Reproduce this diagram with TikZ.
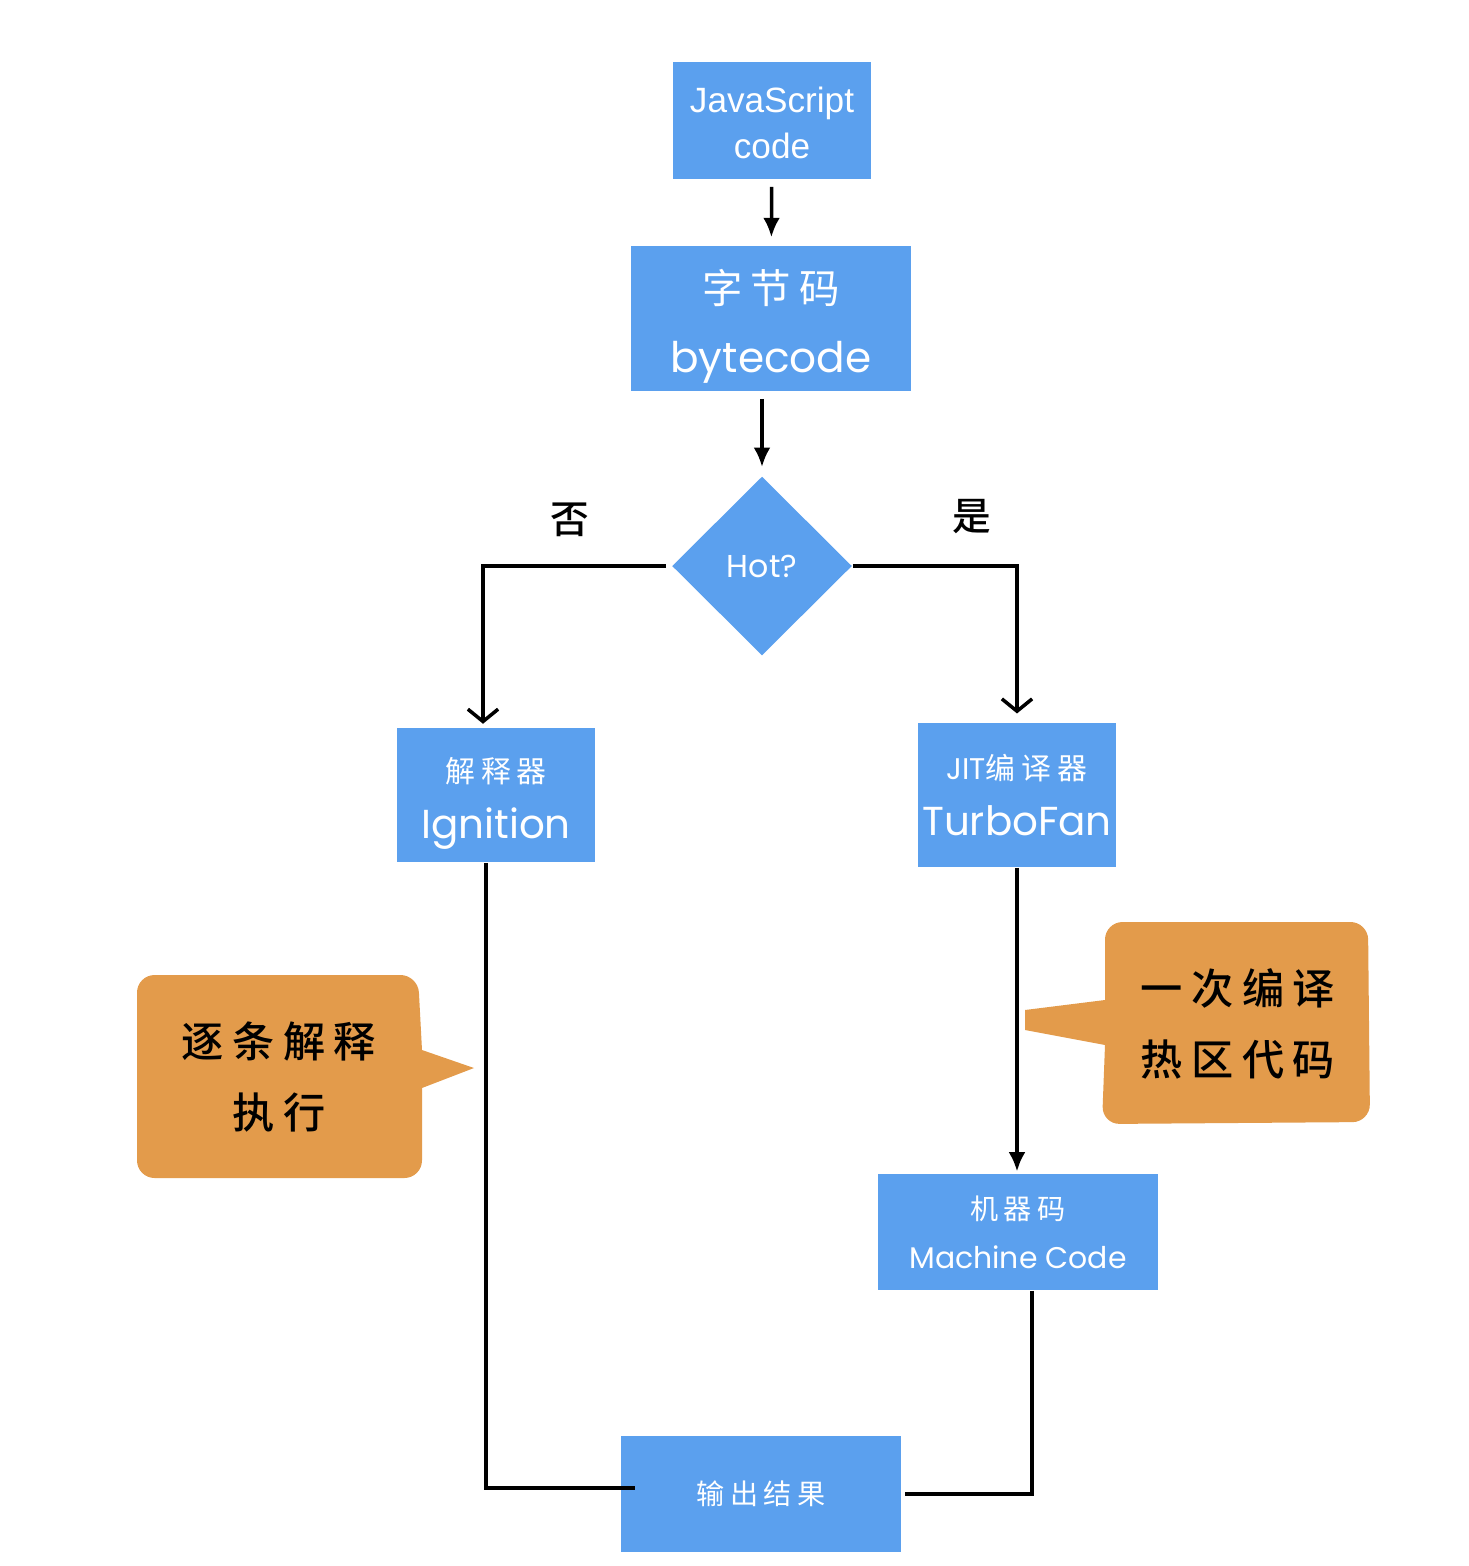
\documentclass[tikz,border=0pt]{standalone}
\usepackage{fontspec}
\setmainfont{Poppins}
\newfontfamily\cjk[LetterSpace=20]{Noto Sans CJK SC}
\newfontfamily\cjknote[LetterSpace=20,UprightFont=* Medium]{Noto Sans CJK SC}
\newfontfamily\jsfont{Liberation Sans}
\usetikzlibrary{arrows.meta,positioning,shapes.geometric}
\definecolor{Block}{HTML}{5BA0EE}
\definecolor{Balloon}{HTML}{E39B4B}

\begin{document}
\begin{tikzpicture}[x=0.01cm,y=-0.01cm,>=Latex]
        \tikzset{
          blockbox/.style={
            fill=Block,
            text=white,
            inner sep=0pt,
            align=center
          },
          hotbox/.style={
            diamond,
            fill=Block,
            text=white,
            inner sep=0pt,
            minimum width=1.8cm,
            minimum height=1.79cm
          },
          flowline/.style={line width=1pt},
          fillhead/.style={-{Latex[length=5.5pt,width=4.8pt]}},
          barbhead/.style={-{Straight Barb[length=3.5pt,width=8.6pt]}},
          balloontext/.style={align=center, font=\fontsize{12}{20}\selectfont\cjknote}
        }
        \useasboundingbox (0,0) rectangle (1468,1566);
        % boxes
        \node[blockbox,minimum width=1.98cm,minimum height=1.17cm,font=\jsfont\fontsize{10}{13}\selectfont] (jscode) at (772,120.5) {\rule{0pt}{0.31cm}JavaScript\\code};
        \node[blockbox,minimum width=2.8cm,minimum height=1.45cm,font=\fontsize{12}{19.5}\selectfont] (bytecode) at (771,318.5) {{\cjk\fontsize{11.5}{19.5}\selectfont\rule{0pt}{0.5cm}字节码}\\bytecode};
        \node[hotbox,font=\fontsize{9}{11}\selectfont] (hot) at (762,566) {Hot?};
        \node[blockbox,minimum width=1.98cm,minimum height=1.34cm,font=\fontsize{11.5}{16}\selectfont] (ignition) at (496,795) {{\cjk\fontsize{8.5}{16}\selectfont\rule{0pt}{0.42cm}解释器}\\Ignition};
        \node[blockbox,minimum width=1.98cm,minimum height=1.44cm,font=\fontsize{11.5}{16}\selectfont] (jit) at (1017,795) {{\fontsize{8.5}{16}\selectfont JIT\cjk 编译器}\\TurboFan};
        \node[blockbox,minimum width=2.8cm,minimum height=1.16cm,font=\fontsize{8.5}{14}\selectfont] (machine) at (1018,1232) {{\cjk\fontsize{8}{14}\selectfont 机器码}\\Machine Code};
        \node[blockbox,minimum width=2.8cm,minimum height=1.16cm,font=\fontsize{8}{10}\selectfont\cjk] (output) at (761,1494) {输出结果};
        \node[font=\fontsize{11}{13}\selectfont\cjknote] (no) at (570,520) {否};
        \node[font=\fontsize{11}{13}\selectfont\cjknote] (yes) at (972,517) {是};
        % callouts
        \fill[Balloon] (280,975) [rounded corners=5pt] -- (418,975) [sharp corners] -- (422,1050) -- (474,1068) -- (422,1088) [rounded corners=5pt] -- (422,1178) -- (137,1178) -- (137,975) -- cycle;
        \node[balloontext] (leftnote) at (279,1077) {逐条解释\\执行};
        \fill[Balloon] (1200,922) [rounded corners=5pt] -- (1368,922) -- (1370,1122) -- (1102,1124) [sharp corners] -- (1105,1045) -- (1025,1030) -- (1025,1010) -- (1105,1000) [rounded corners=5pt] -- (1105,922) -- cycle;
        \node[balloontext] (rightnote) at (1238,1024) {一次编译\\热区代码};
        % connectors
        \draw[flowline,fillhead,shorten <=2pt,shorten >=2.3pt] (jscode) -- (bytecode);
        \draw[flowline,fillhead,shorten <=2pt,shorten >=2.5pt] (hot.north |- bytecode.south) -- (hot.north);
        \draw[flowline,barbhead,shorten >=1pt] ([xshift=-0.05cm]hot.west) -| ([xshift=-0.13cm]ignition.north);
        \draw[flowline,barbhead,shorten >=2.5pt] (hot.east) -| (jit.north);
        \draw[flowline] ([xshift=-0.1cm]ignition.south) |- ([xshift=0.15cm,yshift=0.06cm]output.west);
        \draw[flowline,fillhead,shorten >=0.5pt] (jit.south) -- (jit.south |- machine.north);
        \draw[flowline] ([xshift=0.14cm]machine.south) |- ([xshift=0.03cm]output.east);
      \end{tikzpicture}
\end{document}
